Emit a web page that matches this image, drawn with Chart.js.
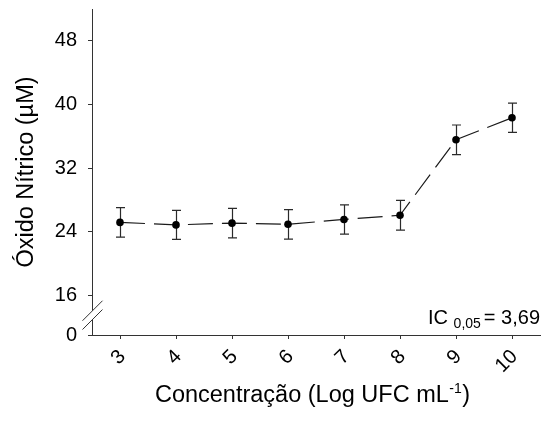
<!DOCTYPE html>
<html><head><meta charset="utf-8">
<script src="https://cdn.jsdelivr.net/npm/chart.js@4.4.1/dist/chart.umd.min.js"></script>
<style>html,body{margin:0;padding:0;background:#fff;}#wrap{width:544px;height:430px;}</style>
</head><body><div id="wrap"><canvas id="c" width="544" height="430"></canvas></div>
<script>
const concentrations = [3, 4, 5, 6, 7, 8, 9, 10];
const xTickLabels = ['3', '4', '5', '6', '7', '8', '9', '10'];
const nitricOxide = [25.16, 24.85, 25.07, 24.92, 25.53, 26.06, 35.55, 38.32];
const errorSD = [1.86, 1.82, 1.85, 1.86, 1.84, 1.86, 1.86, 1.84];
const yTickValues = [0, 16, 24, 32, 40, 48];
const yAxisTitle = 'Óxido Nítrico (µM)';
const xAxisTitle = 'Concentração (Log UFC mL';
const xAxisTitleSup = '-1';
const xAxisTitleEnd = ')';
const icMain = 'IC ';
const icSub = '0,05';
const icValue = '= 3,69';

const Y_BREAK_BOTTOM = 11; // broken axis: value "0" is drawn at this axis position
const FONT = "'Liberation Sans', Arial, Helvetica, sans-serif";
const AXIS = '#333';

const customDraw = {
  id: 'customDraw',
  beforeDatasetsDraw(chart) {
    const { ctx, scales: { x, y } } = chart;
    ctx.save();
    ctx.strokeStyle = '#2a2a2a';
    ctx.lineWidth = 1.2;
    concentrations.forEach((c, i) => {
      const px = Math.round(x.getPixelForValue(c)) + 0.5;
      const top = y.getPixelForValue(nitricOxide[i] + errorSD[i]);
      const bot = y.getPixelForValue(nitricOxide[i] - errorSD[i]);
      ctx.beginPath();
      ctx.moveTo(px, top); ctx.lineTo(px, bot);
      ctx.moveTo(px - 4.5, top); ctx.lineTo(px + 4.5, top);
      ctx.moveTo(px - 4.5, bot); ctx.lineTo(px + 4.5, bot);
      ctx.stroke();
    });
    ctx.restore();
  },
  afterDraw(chart) {
    const { ctx, scales: { x, y }, chartArea } = chart;
    ctx.save();
    // x tick labels, rotated
    ctx.fillStyle = '#000';
    ctx.font = '20px ' + FONT;
    ctx.textAlign = 'right';
    ctx.textBaseline = 'middle';
    concentrations.forEach((c, i) => {
      const px = x.getPixelForValue(c);
      ctx.save();
      ctx.translate(px + 2.5, chartArea.bottom + 18.5);
      ctx.rotate(-Math.PI / 4);
      ctx.fillText(xTickLabels[i], 0, 0);
      ctx.restore();
    });
    // x axis title with superscript
    ctx.textAlign = 'left';
    ctx.textBaseline = 'alphabetic';
    const mainFont = '23.5px ' + FONT, supFont = '14px ' + FONT;
    ctx.font = mainFont; const w1 = ctx.measureText(xAxisTitle).width; const w3 = ctx.measureText(xAxisTitleEnd).width;
    ctx.font = supFont; const w2 = ctx.measureText(xAxisTitleSup).width;
    const total = w1 + w2 + w3;
    let sx = (chartArea.left + chartArea.right) / 2 - total / 2 - 4;
    const base = 402;
    ctx.font = mainFont; ctx.fillText(xAxisTitle, sx, base);
    ctx.font = supFont; ctx.fillText(xAxisTitleSup, sx + w1 + 0.5, base - 9);
    ctx.font = mainFont; ctx.fillText(xAxisTitleEnd, sx + w1 + w2 + 1, base);
    // IC annotation
    const icBase = y.getPixelForValue(yTickValues[1]) + 29;
    ctx.font = '20px ' + FONT;
    const wi = ctx.measureText(icMain).width;
    const wv = ctx.measureText(icValue).width;
    ctx.font = '14px ' + FONT;
    const ws = ctx.measureText(icSub).width;
    let ix = chartArea.right - (wi + ws + 3 + wv);
    ctx.font = '20px ' + FONT; ctx.fillText(icMain, ix, icBase);
    ctx.font = '14px ' + FONT; ctx.fillText(icSub, ix + wi, icBase + 4);
    ctx.font = '20px ' + FONT; ctx.fillText(icValue, ix + wi + ws + 3, icBase);
    // axis break marks
    const ax = Math.round(chartArea.left) + 0.5;
    const mid = (y.getPixelForValue(yTickValues[1]) + y.getPixelForValue(Y_BREAK_BOTTOM)) / 2;
    ctx.fillStyle = '#fff';
    ctx.fillRect(ax - 2, mid - 4.4, 4, 8.8);
    ctx.strokeStyle = AXIS; ctx.lineWidth = 1;
    ctx.beginPath();
    ctx.moveTo(ax - 10, mid - 4.4 + 10); ctx.lineTo(ax + 10, mid - 4.4 - 10);
    ctx.moveTo(ax - 10, mid + 4.4 + 10); ctx.lineTo(ax + 10, mid + 4.4 - 10);
    ctx.stroke();
    ctx.restore();
  }
};

new Chart(document.getElementById('c'), {
  type: 'line',
  data: {
    datasets: [{
      data: concentrations.map((c, i) => ({ x: c, y: nitricOxide[i] })),
      borderColor: '#1a1a1a',
      borderWidth: 1.2,
      borderDash: [25, 9],
      pointRadius: 3.8,
      pointBackgroundColor: '#000',
      pointBorderWidth: 0,
      tension: 0,
      fill: false
    }]
  },
  options: {
    responsive: false,
    animation: false,
    devicePixelRatio: 1,
    layout: { padding: { top: 9, right: 0, left: 0, bottom: 0 } },
    plugins: { legend: { display: false }, tooltip: { enabled: false } },
    scales: {
      x: {
        type: 'linear', min: 2.5, max: 10.5,
        afterBuildTicks: s => { s.ticks = concentrations.map(v => ({ value: v })); },
        ticks: { display: false },
        grid: { drawOnChartArea: false, drawTicks: true, tickLength: 4, color: AXIS },
        border: { color: AXIS, width: 1 },
        afterFit: s => { s.height = 95; s.paddingLeft = 0; s.paddingRight = 0; }
      },
      y: {
        type: 'linear', min: Y_BREAK_BOTTOM, max: 52,
        afterBuildTicks: s => { s.ticks = yTickValues.map(v => ({ value: v === 0 ? Y_BREAK_BOTTOM : v })); },
        ticks: {
          callback: (v, i) => String(yTickValues[i]),
          font: { family: FONT, size: 20 }, color: '#000', padding: 11
        },
        grid: { drawOnChartArea: false, drawTicks: true, tickLength: 4, color: AXIS },
        border: { color: AXIS, width: 1 },
        title: { display: true, text: yAxisTitle, font: { family: FONT, size: 23.5 }, color: '#000', padding: { top: 12, bottom: 0 } },
        afterFit: s => { s.width = 92; s.paddingTop = 0; s.paddingBottom = 0; }
      }
    }
  },
  plugins: [customDraw]
});
</script>
</body></html>
